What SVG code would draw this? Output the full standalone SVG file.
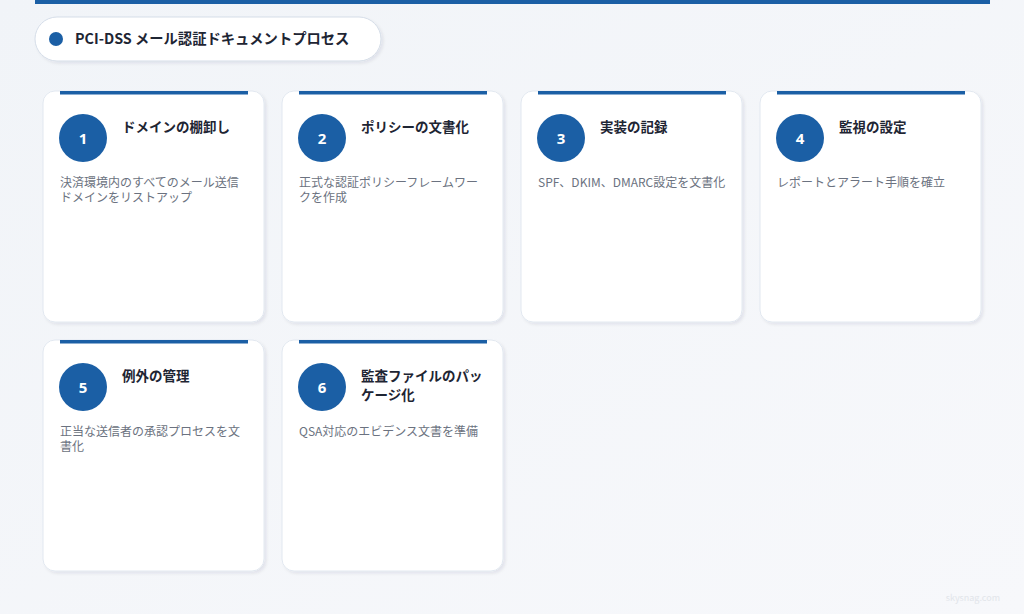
<svg xmlns="http://www.w3.org/2000/svg" width="1024" height="614" viewBox="0 0 1024 614">
<defs>
<linearGradient id="bg" x1="0" y1="0" x2="1" y2="1">
<stop offset="0" stop-color="#f1f4f8"/>
<stop offset="1" stop-color="#f7f8fb"/>
</linearGradient>
<filter id="sh" x="-10%" y="-10%" width="125%" height="125%">
<feDropShadow dx="2" dy="2" stdDeviation="1.5" flood-color="#1e293b" flood-opacity="0.08"/>
</filter>
<g id="card">
<rect x="0" y="0" width="221" height="231" rx="12" fill="#ffffff" stroke="#e2e8f0" stroke-width="1" filter="url(#sh)"/>
<rect x="17" y="0" width="188" height="3.5" fill="#1b5fa5"/>
</g>
</defs>
<style>
.t{font-family:"Noto Sans CJK JP","Noto Sans",sans-serif;}
.ttl{font-size:13.5px;font-weight:700;fill:#1e2533;}
.num{font-family:"Open Sans","Noto Sans",sans-serif;font-size:15px;font-weight:700;fill:#ffffff;}
.desc{font-size:12px;fill:#6b7280;}
.circ{fill:#1b5fa5;}
</style>
<rect width="1024" height="614" fill="url(#bg)"/>
<rect x="35" y="0" width="955" height="4" fill="#1b5fa5"/>
<g id="title">
<rect x="35" y="17" width="346" height="44" rx="22" fill="#ffffff" stroke="#d5dde8" stroke-width="1" filter="url(#sh)"/>
<circle cx="56" cy="39" r="7" fill="#1b5fa5"/>
<text x="75" y="44" class="t" font-size="14.3" font-weight="700" fill="#1e2533">PCI-DSS メール認証ドキュメントプロセス</text>
</g>
<g id="connectors"></g>
<g id="node1" transform="translate(43,91)">
<use href="#card"/>
<circle cx="40" cy="47" r="24" class="circ"/>
<text x="40" y="52.5" text-anchor="middle" class="num">1</text>
<text x="79" y="41" class="t ttl">ドメインの棚卸し</text>
<text x="17" y="96" class="t desc">決済環境内のすべてのメール送信</text>
<text x="17" y="111" class="t desc">ドメインをリストアップ</text>
</g>
<g id="node2" transform="translate(282,91)">
<use href="#card"/>
<circle cx="40" cy="47" r="24" class="circ"/>
<text x="40" y="52.5" text-anchor="middle" class="num">2</text>
<text x="79" y="41" class="t ttl">ポリシーの文書化</text>
<text x="17" y="96" class="t desc">正式な認証ポリシーフレームワー</text>
<text x="17" y="111" class="t desc">クを作成</text>
</g>
<g id="node3" transform="translate(521,91)">
<use href="#card"/>
<circle cx="40" cy="47" r="24" class="circ"/>
<text x="40" y="52.5" text-anchor="middle" class="num">3</text>
<text x="79" y="41" class="t ttl">実装の記録</text>
<text x="17" y="96" class="t desc">SPF、DKIM、DMARC設定を文書化</text>
</g>
<g id="node4" transform="translate(760,91)">
<use href="#card"/>
<circle cx="40" cy="47" r="24" class="circ"/>
<text x="40" y="52.5" text-anchor="middle" class="num">4</text>
<text x="79" y="41" class="t ttl">監視の設定</text>
<text x="17" y="96" class="t desc">レポートとアラート手順を確立</text>
</g>
<g id="node5" transform="translate(43,340)">
<use href="#card"/>
<circle cx="40" cy="47" r="24" class="circ"/>
<text x="40" y="52.5" text-anchor="middle" class="num">5</text>
<text x="79" y="41" class="t ttl">例外の管理</text>
<text x="17" y="96" class="t desc">正当な送信者の承認プロセスを文</text>
<text x="17" y="111" class="t desc">書化</text>
</g>
<g id="node6" transform="translate(282,340)">
<use href="#card"/>
<circle cx="40" cy="47" r="24" class="circ"/>
<text x="40" y="52.5" text-anchor="middle" class="num">6</text>
<text x="79" y="41" class="t ttl">監査ファイルのパッ</text>
<text x="79" y="60" class="t ttl">ケージ化</text>
<text x="17" y="96" class="t desc">QSA対応のエビデンス文書を準備</text>
</g>
<text x="1000" y="601" text-anchor="end" class="t" font-size="9" fill="#e2e5ea">skysnag.com</text>
</svg>
